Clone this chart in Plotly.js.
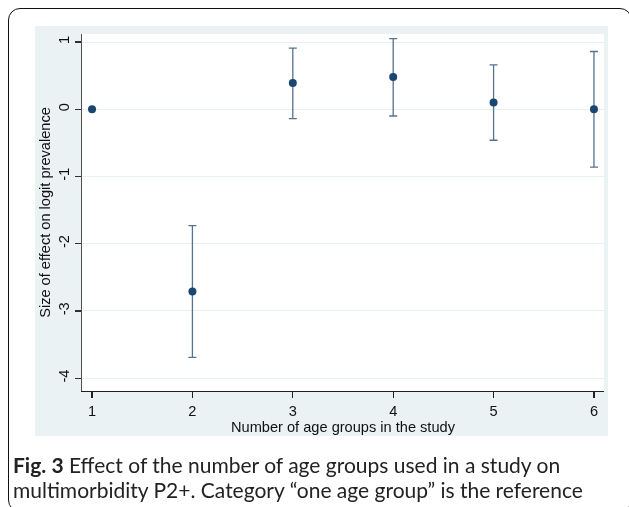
<!DOCTYPE html>
<html>
<head>
<meta charset="utf-8">
<script src="https://cdn.plot.ly/plotly-3.0.1.min.js"></script>
<style>
html,body{margin:0;padding:0;background:#fff;overflow:hidden;}
#wrap{position:relative;width:629px;height:507px;overflow:hidden;background:#fff;}
#chart{position:absolute;left:0;top:0;width:629px;height:507px;}
#graybg{position:absolute;left:35px;top:26px;width:573px;height:410px;box-sizing:border-box;
  border-style:solid;border-color:#eaf2f3;border-width:8px 4px 45px 47px;background:transparent;
  mix-blend-mode:multiply;pointer-events:none;}
#frame{position:absolute;left:8px;top:8px;width:622px;height:502px;border:1.5px solid #111;border-radius:12px;pointer-events:none;}
</style>
</head>
<body>
<div id="wrap"><div id="chart"></div><div id="graybg"></div><div id="frame"></div></div>
<script>
const ageGroups = [1, 2, 3, 4, 5, 6];
const estimates = [0, -2.71, 0.39, 0.48, 0.10, 0.00];
const ciLower = [null, -3.69, -0.14, -0.10, -0.46, -0.86];
const ciUpper = [null, -1.73, 0.91, 1.05, 0.66, 0.86];
const yTicks = [1, 0, -1, -2, -3, -4];
const yTickText = ['1', '0', '-1', '-2', '-3', '-4'];
const xTicks = [1, 2, 3, 4, 5, 6];

const errPlus = estimates.map((v, i) => ciUpper[i] === null ? null : ciUpper[i] - v);
const errMinus = estimates.map((v, i) => ciLower[i] === null ? null : v - ciLower[i]);

const trace = {
  x: ageGroups, y: estimates, type: 'scatter', mode: 'markers',
  marker: {color: '#1a476f', size: 8},
  error_y: {type: 'data', symmetric: false, array: errPlus, arrayminus: errMinus,
            color: '#55728f', thickness: 1.3, width: 4},
  hoverinfo: 'x+y'
};

const axisFont = {family: 'Liberation Sans, Arial, sans-serif', size: 14.6, color: '#111'};
const layout = {
  width: 629, height: 507,
  margin: {l: 82, r: 25, t: 34, b: 116},
  paper_bgcolor: '#ffffff', plot_bgcolor: '#ffffff',
  showlegend: false,
  xaxis: {range: [0.9, 6.1], tickvals: xTicks, showgrid: false, zeroline: false,
          showline: true, linecolor: '#222', linewidth: 1.2,
          ticks: 'outside', ticklen: 6, tickcolor: '#222', tickwidth: 1.2,
          tickfont: axisFont,
          title: {text: 'Number of age groups in the study', font: axisFont, standoff: 1}},
  yaxis: {range: [-4.19, 1.12], tickvals: yTicks, ticktext: yTickText, tickangle: -90,
          showgrid: true, gridcolor: '#e8f0f1', gridwidth: 1, zeroline: false,
          showline: true, linecolor: '#555', linewidth: 1.2,
          ticks: 'outside', ticklen: 6, tickcolor: '#333', tickwidth: 1.2,
          tickfont: axisFont,
          title: {text: 'Size of effect on logit prevalence', font: axisFont, standoff: 1}},
  annotations: [
    {xref: 'paper', yref: 'paper', x: -0.136, y: -0.205, xanchor: 'left', yanchor: 'middle',
     showarrow: false, align: 'left',
     text: '<b>Fig. 3</b> Effect of the number of age groups used in a study on',
     font: {family: 'Lato, Open Sans, sans-serif', size: 21, color: '#222'}},
    {xref: 'paper', yref: 'paper', x: -0.136, y: -0.275, xanchor: 'left', yanchor: 'middle',
     showarrow: false, align: 'left',
     text: 'multimorbidity P2+. Category \u201cone age group\u201d is the reference',
     font: {family: 'Lato, Open Sans, sans-serif', size: 21, color: '#222'}}
  ]
};

Plotly.newPlot('chart', [trace], layout, {displayModeBar: false, staticPlot: true});
</script>
</body>
</html>
